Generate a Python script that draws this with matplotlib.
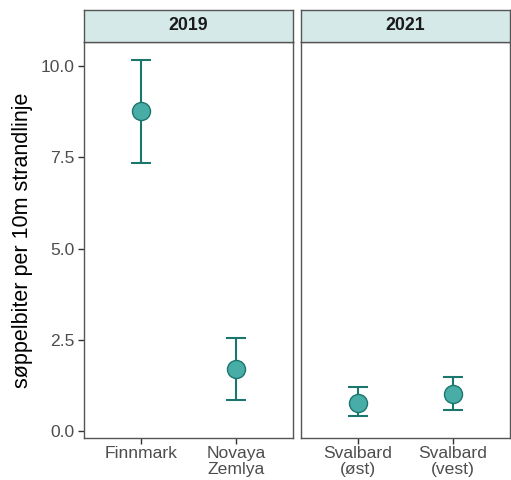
import matplotlib
matplotlib.use('Agg')
import matplotlib.pyplot as plt

plt.rcParams['font.family'] = ['Liberation Sans', 'DejaVu Sans']

years = ['2019', '2021']
sites_2019 = ['Finnmark', 'Novaya\nZemlya']
sites_2021 = ['Svalbard\n(øst)', 'Svalbard\n(vest)']
mean_2019 = [8.77, 1.70]
low_2019 = [7.34, 0.85]
high_2019 = [10.16, 2.55]
mean_2021 = [0.77, 1.01]
low_2021 = [0.41, 0.58]
high_2021 = [1.20, 1.48]

fill_col = '#48ADA6'
line_col = '#1B766E'
strip_col = '#D5EAE8'
frame_col = '#555555'
tick_col = '#4D4D4D'

fig = plt.figure(figsize=(5.11, 4.80), dpi=100)
panels = [(0.1644, sites_2019, mean_2019, low_2019, high_2019),
          (0.589, sites_2021, mean_2021, low_2021, high_2021)]
w = 0.409
bottom, top = 0.0875, 0.9125
strip_h = 0.0667

for k, (left, sites, m, lo, hi) in enumerate(panels):
    ax = fig.add_axes([left, bottom, w, top - bottom])
    x = list(range(1, len(sites) + 1))
    yerr = [[m[i] - lo[i] for i in range(len(m))], [hi[i] - m[i] for i in range(len(m))]]
    ax.errorbar(x, m, yerr=yerr, fmt='none', ecolor=line_col, elinewidth=1.5,
                capsize=7.5, capthick=1.5, zorder=2)
    ax.plot(x, m, 'o', markersize=13, markerfacecolor=fill_col,
            markeredgecolor=line_col, markeredgewidth=1.0, zorder=3)
    ax.set_xlim(0.4, 2.6)
    ax.set_ylim(-0.19, 10.66)
    ax.set_xticks(x)
    ax.set_xticklabels(sites, fontsize=12.6, color=tick_col, linespacing=1.12)
    ax.set_yticks([0, 2.5, 5, 7.5, 10])
    if k == 0:
        ax.set_yticklabels(['0.0', '2.5', '5.0', '7.5', '10.0'], fontsize=12.6, color=tick_col)
        ax.set_ylabel('søppelbiter per 10m strandlinje', fontsize=15.5, labelpad=5)
    else:
        ax.tick_params(axis='y', left=False, labelleft=False)
    ax.tick_params(axis='both', length=4, width=1.0, color='#333333', pad=3)
    ax.tick_params(axis='x', pad=1.5)
    for s in ax.spines.values():
        s.set_color(frame_col)
        s.set_linewidth(1.0)

    sax = fig.add_axes([left, top, w, strip_h])
    sax.set_facecolor(strip_col)
    sax.set_xticks([])
    sax.set_yticks([])
    for s in sax.spines.values():
        s.set_color(frame_col)
        s.set_linewidth(1.0)
    sax.text(0.5, 0.5, years[k], ha='center', va='center', fontsize=12.8,
             fontweight='bold', color='#1A1A1A', transform=sax.transAxes)

fig.savefig('out.png', dpi=100)
